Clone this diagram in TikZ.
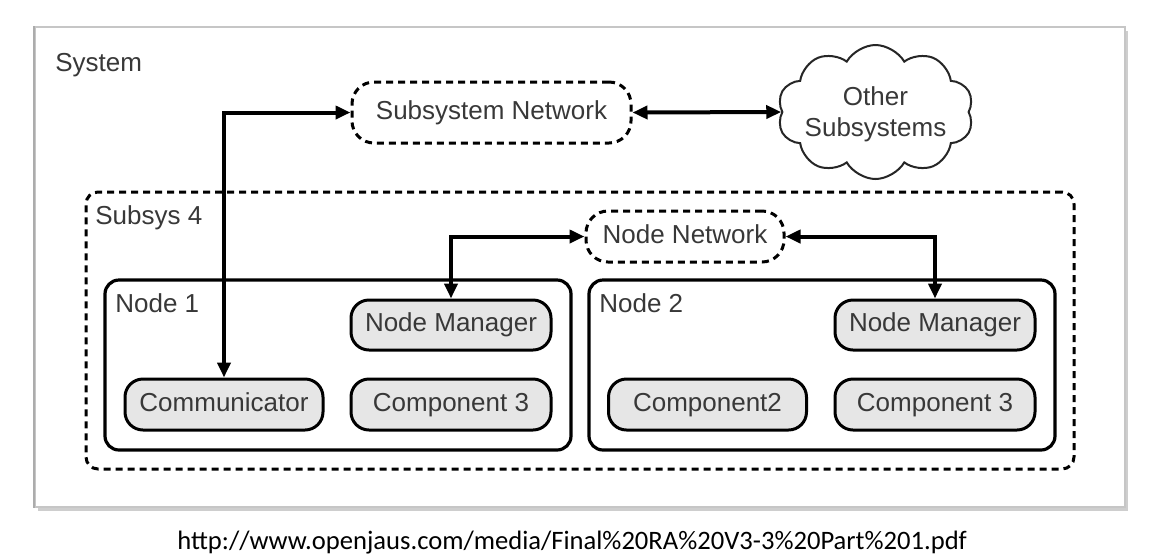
\documentclass[tikz,border=0pt]{standalone}
\usepackage{fontspec}
\setmainfont{Liberation Sans}
\newfontfamily\urlfont{Carlito}
\usetikzlibrary{arrows.meta,shapes.symbols,shadows}
\definecolor{textgray}{HTML}{383838}
\definecolor{compgray}{HTML}{E6E6E6}
\begin{document}
\begin{tikzpicture}[x=0.5pt,y=-0.5pt,
  lbl/.style={text=textgray,font=\fontsize{13}{15.5}\selectfont,inner sep=0pt},
  comp/.style={draw=black,line width=1.5pt,fill=compgray,rounded corners=9pt,
    minimum width=99pt,minimum height=25.5pt,inner sep=0pt,text=textgray,
    text height=9.4pt,text depth=2.6pt,
    font=\fontsize{13}{15.5}\selectfont},
  nodebox/.style={draw=black,line width=1.6pt,rounded corners=7pt,inner sep=0pt,
    minimum width=233pt,minimum height=85pt},
  dashbox/.style={draw=black,line width=1.5pt,dash pattern=on 3.5pt off 2.5pt,
    inner sep=0pt,text=textgray,text height=9.4pt,text depth=2.6pt,
    font=\fontsize{13}{15.5}\selectfont},
  conn/.style={line width=2pt,
    {Triangle[length=7.5pt,width=6.5pt]}-{Triangle[length=7.5pt,width=6.5pt]}},
  frame/.style={draw=gray!45,line width=0.8pt,fill=white,inner sep=0pt,
    minimum width=545pt,minimum height=240pt,
    drop shadow={shadow xshift=1.5pt,shadow yshift=-1.8pt,fill=gray!70,opacity=0.55}}
]
\useasboundingbox (0,0) rectangle (1158,554);
\fill[white] (0,0) rectangle (1158,554);

% system frame
\node[frame] (sysframe) at (580,267) {};
\draw[gray!65,line width=1.2pt] (sysframe.south west) -- (sysframe.north west);
\node[lbl,anchor=base west] (lsystem) at (55,71) {System};

% subsys 4
\node[dashbox,rounded corners=6pt,minimum width=494pt,minimum height=138.5pt] (subsys) at (580,330.5) {};
\node[lbl,anchor=base west] (lsubsys) at (95,224) {Subsys 4};

% networks
\node[dashbox,rounded corners=11pt,minimum width=139.5pt,minimum height=30.5pt] (subnet) at (491.5,112.5) {Subsystem Network};
\node[dashbox,rounded corners=11pt,minimum width=99pt,minimum height=25.5pt] (nodenet) at (685,236.5) {Node Network};

% cloud
\node[cloud,draw=black!85,line width=1pt,cloud puffs=10,cloud puff arc=120,
  cloud ignores aspect,minimum width=98pt,minimum height=67pt,inner sep=0pt] (other) at (875.5,112) {};
\node[lbl,align=center,anchor=center] (othertxt) at (875.5,114) {Other\\Subsystems};

% node boxes
\node[nodebox] (node1) at (338,365) {};
\node[lbl,anchor=base west] (lnode1) at (115,312) {Node 1};
\node[nodebox] (node2) at (822,365) {};
\node[lbl,anchor=base west] (lnode2) at (599,312) {Node 2};

% components
\node[comp] (comm) at (224,404.5) {Communicator};
\node[comp,minimum width=100pt,minimum height=25pt] (nm1) at (451,325) {Node Manager};
\node[comp,minimum width=100pt] (c3a) at (451,404.5) {Component 3};
\node[comp] (c2) at (707.5,404.5) {Component2};
\node[comp,minimum width=100pt,minimum height=25pt] (nm2) at (935,325) {Node Manager};
\node[comp,minimum width=100pt] (c3b) at (935,404.5) {Component 3};

% connectors
\draw[conn] (subnet.west) -| (comm.north);
\draw[conn] (subnet.east) -- (other.west);
\draw[conn] (nodenet.west) -| (nm1.north);
\draw[conn] (nodenet.east) -| (nm2.north);

% source url
\node[inner sep=0pt,anchor=base west,font=\urlfont\fontsize{13.3}{16}\selectfont] (url) at (177,549) {http://www.openjaus.com/media/Final\%20RA\%20V3-3\%20Part\%201.pdf};
\end{tikzpicture}
\end{document}
